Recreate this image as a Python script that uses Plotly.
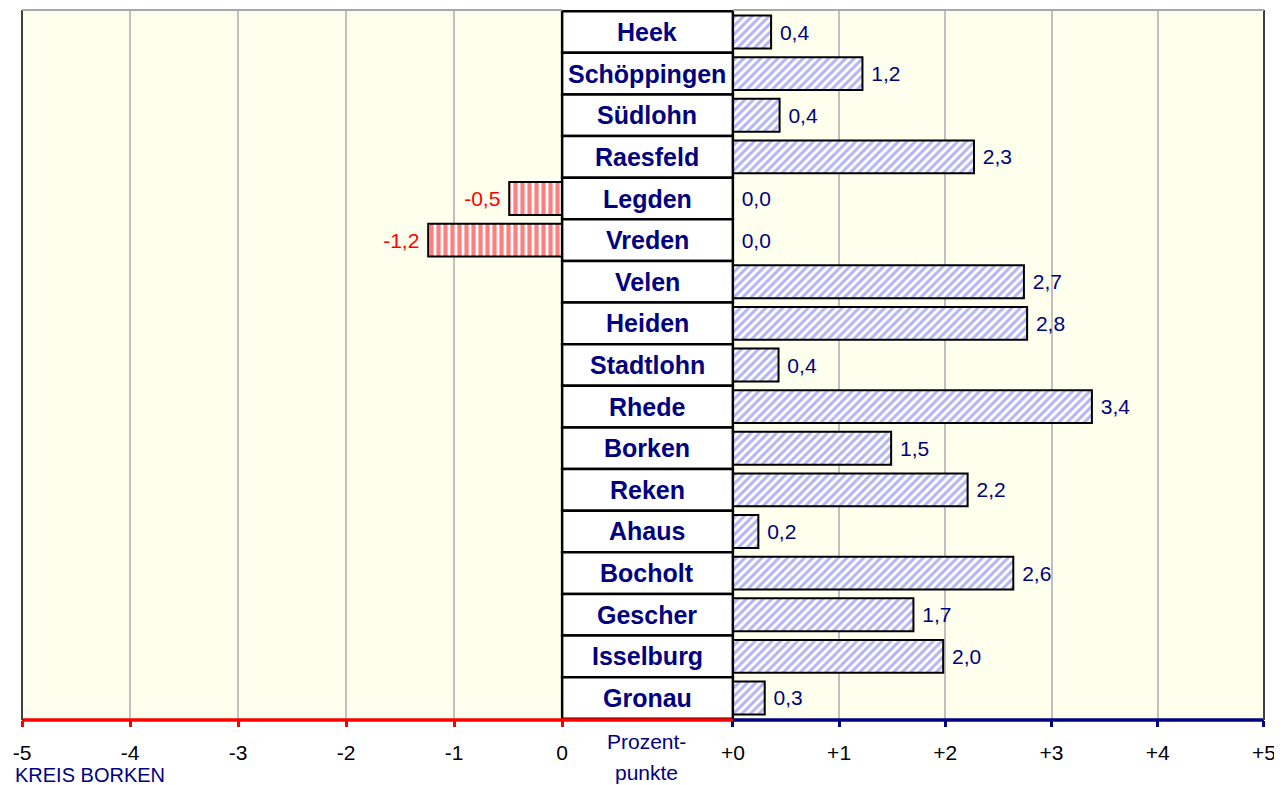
import plotly.graph_objects as go

# ---- data ----
municipalities = ["Heek", "Schöppingen", "Südlohn", "Raesfeld", "Legden", "Vreden",
                  "Velen", "Heiden", "Stadtlohn", "Rhede", "Borken", "Reken",
                  "Ahaus", "Bocholt", "Gescher", "Isselburg", "Gronau"]
change_pp = [0.36, 1.22, 0.44, 2.27, -0.49, -1.24, 2.74, 2.77, 0.43, 3.38,
             1.49, 2.21, 0.24, 2.64, 1.70, 1.98, 0.30]
left_tick_vals = [-5, -4, -3, -2, -1, 0]
left_tick_text = ["-5", "-4", "-3", "-2", "-1", "0"]
right_tick_vals = [0, 1, 2, 3, 4, 5]
right_tick_text = ["+0", "+1", "+2", "+3", "+4", "+5"]

NB = "\u00a0"

def fmt(v):
    return f"{v:.1f}".replace(".", ",")

pos_vals = [max(v, 0) for v in change_pp]
pos_text = [NB + fmt(v) for v in pos_vals]
neg_vals = [v if v < 0 else None for v in change_pp]
neg_text = [fmt(v) + NB if v < 0 else "" for v in change_pp]

OFF = 8  # browser body margin
W, H = 1282 - OFF, 785 - OFF
ML = 20 - OFF
MT = 10 - OFF
MR = W - (1264 - OFF)
MB = H - (720 - OFF)
pw = W - ML - MR
ph = H - MT - MB
left_end = (561 - 20) / pw
right_start = (732 - 20) / pw

def py(page_y):
    return (720 - page_y) / ph

def px(page_x):
    return (page_x - 20) / pw

NAVY = "#000080"
RED = "#FF0000"
FONT = "Liberation Sans, Arial, sans-serif"

fig = go.Figure()
fig.add_trace(go.Bar(
    y=municipalities, x=neg_vals, orientation="h", xaxis="x", yaxis="y",
    marker=dict(color="white", line=dict(color="black", width=2),
                pattern=dict(shape="|", fgcolor=RED, size=7, solidity=0.6)),
    text=neg_text, textposition="outside", cliponaxis=False, constraintext="none",
    textfont=dict(color=RED, size=21, family=FONT), showlegend=False,
))
fig.add_trace(go.Bar(
    y=municipalities, x=pos_vals, orientation="h", xaxis="x2", yaxis="y",
    marker=dict(color="white", line=dict(color="black", width=2),
                pattern=dict(shape="/", fgcolor="#6A6AEA", size=6, solidity=0.5)),
    text=pos_text, textposition="outside", cliponaxis=False, constraintext="none",
    textfont=dict(color=NAVY, size=21, family=FONT), showlegend=False,
))

shapes = []
annotations = []
for i, name in enumerate(municipalities):
    shapes.append(dict(type="rect", xref="paper", yref="y",
                       x0=left_end, x1=right_start, y0=i - 0.5, y1=i + 0.5,
                       fillcolor="white", line=dict(color="black", width=2.5), layer="above"))
    annotations.append(dict(xref="paper", yref="y", x=(left_end + right_start) / 2, y=name,
                            text=f"<b>{name}</b>", showarrow=False,
                            font=dict(color=NAVY, size=25, family=FONT)))

# axis line segments and borders
shapes += [
    dict(type="line", xref="paper", yref="paper", x0=0, x1=right_start, y0=0, y1=0,
         line=dict(color=RED, width=3.5), layer="above"),
    dict(type="line", xref="paper", yref="paper", x0=right_start, x1=1, y0=0, y1=0,
         line=dict(color=NAVY, width=3.5), layer="above"),
    dict(type="line", xref="paper", yref="paper", x0=0, x1=0, y0=0, y1=1,
         line=dict(color="#404040", width=2)),
    dict(type="line", xref="paper", yref="paper", x0=1, x1=1, y0=0, y1=1,
         line=dict(color="#404040", width=2)),
    dict(type="line", xref="paper", yref="paper", x0=0, x1=left_end, y0=1, y1=1,
         line=dict(color="#A8A8A8", width=2)),
    dict(type="line", xref="paper", yref="paper", x0=right_start, x1=1, y0=1, y1=1,
         line=dict(color="#A8A8A8", width=2)),
]

annotations += [
    dict(xref="paper", yref="paper", x=px(11), y=py(775),
         xanchor="left", yanchor="middle", text="KREIS BORKEN", showarrow=False,
         font=dict(color=NAVY, size=20, family=FONT)),
    dict(xref="paper", yref="paper", x=px(646), y=py(741),
         xanchor="center", yanchor="middle", text="Prozent-", showarrow=False,
         font=dict(color=NAVY, size=21, family=FONT)),
    dict(xref="paper", yref="paper", x=px(646), y=py(773),
         xanchor="center", yanchor="middle", text="punkte", showarrow=False,
         font=dict(color=NAVY, size=21, family=FONT)),
]

fig.update_layout(
    width=W, height=H,
    margin=dict(l=ML, r=MR, t=MT, b=MB),
    paper_bgcolor="white", plot_bgcolor="#FFFFEE",
    bargap=0.21, barmode="overlay",
    font=dict(family=FONT, color="black"),
    xaxis=dict(domain=[0, left_end], range=[-5, 0], anchor="y",
               tickvals=left_tick_vals, ticktext=left_tick_text,
               showgrid=True, gridcolor="#C0C0C0", gridwidth=2, zeroline=False,
               showline=False, ticks="outside", ticklen=6, tickwidth=3, tickcolor=RED,
               tickfont=dict(size=21, color="black"), ticklabelstandoff=8, fixedrange=True),
    xaxis2=dict(domain=[right_start, 1], range=[0, 5], anchor="y",
                tickvals=right_tick_vals, ticktext=right_tick_text,
                showgrid=True, gridcolor="#C0C0C0", gridwidth=2, zeroline=False,
                showline=False, ticks="outside", ticklen=6, tickwidth=3, tickcolor=NAVY,
                tickfont=dict(size=21, color="black"), ticklabelstandoff=8, fixedrange=True),
    yaxis=dict(categoryorder="array", categoryarray=municipalities, autorange="reversed",
               showticklabels=False, showgrid=False, zeroline=False, showline=False,
               ticks="", fixedrange=True),
    shapes=shapes, annotations=annotations,
)

fig.write_html("out.html")
